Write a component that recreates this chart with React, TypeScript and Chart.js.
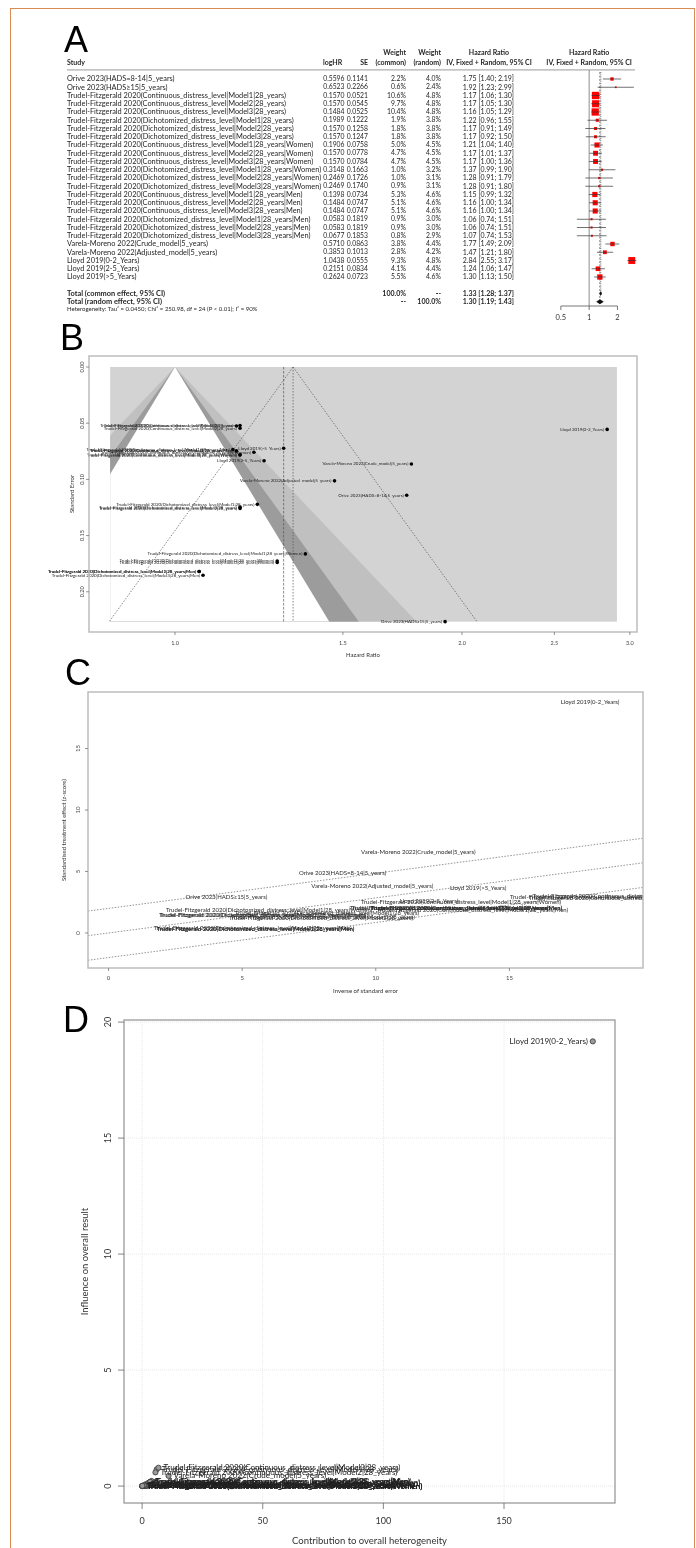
import React, { useEffect, useRef } from "react";
import { Chart, registerables } from "chart.js";

Chart.register(...registerables);

// ---------------- data ----------------
const studies = [
  "Orive 2023(HADS=8-14|5_years)",
  "Orive 2023(HADS≥15|5_years)",
  "Trudel-Fitzgerald 2020(Continuous_distress_level|Model1|28_years)",
  "Trudel-Fitzgerald 2020(Continuous_distress_level|Model2|28_years)",
  "Trudel-Fitzgerald 2020(Continuous_distress_level|Model3|28_years)",
  "Trudel-Fitzgerald 2020(Dichotomized_distress_level|Model1|28_years)",
  "Trudel-Fitzgerald 2020(Dichotomized_distress_level|Model2|28_years)",
  "Trudel-Fitzgerald 2020(Dichotomized_distress_level|Model3|28_years)",
  "Trudel-Fitzgerald 2020(Continuous_distress_level|Model1|28_years|Women)",
  "Trudel-Fitzgerald 2020(Continuous_distress_level|Model2|28_years|Women)",
  "Trudel-Fitzgerald 2020(Continuous_distress_level|Model3|28_years|Women)",
  "Trudel-Fitzgerald 2020(Dichotomized_distress_level|Model1|28_years|Women)",
  "Trudel-Fitzgerald 2020(Dichotomized_distress_level|Model2|28_years|Women)",
  "Trudel-Fitzgerald 2020(Dichotomized_distress_level|Model3|28_years|Women)",
  "Trudel-Fitzgerald 2020(Continuous_distress_level|Model1|28_years|Men)",
  "Trudel-Fitzgerald 2020(Continuous_distress_level|Model2|28_years|Men)",
  "Trudel-Fitzgerald 2020(Continuous_distress_level|Model3|28_years|Men)",
  "Trudel-Fitzgerald 2020(Dichotomized_distress_level|Model1|28_years|Men)",
  "Trudel-Fitzgerald 2020(Dichotomized_distress_level|Model2|28_years|Men)",
  "Trudel-Fitzgerald 2020(Dichotomized_distress_level|Model3|28_years|Men)",
  "Varela-Moreno 2022(Crude_model|5_years)",
  "Varela-Moreno 2022(Adjusted_model|5_years)",
  "Lloyd 2019(0-2_Years)",
  "Lloyd 2019(2-5_Years)",
  "Lloyd 2019(>5_Years)",
];
const logHR = [0.5596, 0.6523, 0.157, 0.157, 0.1484, 0.1989, 0.157, 0.157, 0.1906, 0.157, 0.157, 0.3148, 0.2469, 0.2469, 0.1398, 0.1484, 0.1484, 0.0583, 0.0583, 0.0677, 0.571, 0.3853, 1.0438, 0.2151, 0.2624];
const seValues = [0.1141, 0.2266, 0.0521, 0.0545, 0.0525, 0.1222, 0.1258, 0.1247, 0.0758, 0.0778, 0.0784, 0.1663, 0.1726, 0.174, 0.0734, 0.0747, 0.0747, 0.1819, 0.1819, 0.1853, 0.0863, 0.1013, 0.0555, 0.0834, 0.0723];
const weightCommon = [2.2, 0.6, 10.6, 9.7, 10.4, 1.9, 1.8, 1.8, 5.0, 4.7, 4.7, 1.0, 1.0, 0.9, 5.3, 5.1, 5.1, 0.9, 0.9, 0.8, 3.8, 2.8, 9.3, 4.1, 5.5];
const weightRandom = [4.0, 2.4, 4.8, 4.8, 4.8, 3.8, 3.8, 3.8, 4.5, 4.5, 4.5, 3.2, 3.1, 3.1, 4.6, 4.6, 4.6, 3.0, 3.0, 2.9, 4.4, 4.2, 4.8, 4.4, 4.6];
const hazardRatio = [1.75, 1.92, 1.17, 1.17, 1.16, 1.22, 1.17, 1.17, 1.21, 1.17, 1.17, 1.37, 1.28, 1.28, 1.15, 1.16, 1.16, 1.06, 1.06, 1.07, 1.77, 1.47, 2.84, 1.24, 1.3];
const ciLower = [1.4, 1.23, 1.06, 1.05, 1.05, 0.96, 0.91, 0.92, 1.04, 1.01, 1.0, 0.99, 0.91, 0.91, 0.99, 1.0, 1.0, 0.74, 0.74, 0.74, 1.49, 1.21, 2.55, 1.06, 1.13];
const ciUpper = [2.19, 2.99, 1.3, 1.3, 1.29, 1.55, 1.49, 1.5, 1.4, 1.37, 1.36, 1.9, 1.79, 1.8, 1.32, 1.34, 1.34, 1.51, 1.51, 1.53, 2.09, 1.8, 3.17, 1.47, 1.5];

const totalLabels = ["Total (common effect, 95% CI)", "Total (random effect, 95% CI)"];
const totalWeightCommon = ["100.0%", "--"];
const totalWeightRandom = ["--", "100.0%"];
const totalHR = [1.33, 1.3];
const totalLower = [1.28, 1.19];
const totalUpper = [1.37, 1.43];
const heterogeneityText = "Heterogeneity: Tau² = 0.0450; Chi² = 250.98, df = 24 (P < 0.01); I² = 90%";
const pooledLogHR = 0.2852;

const forestTicks = [0.5, 1, 2];
const funnelTicksX = [1.0, 1.5, 2.0, 2.5, 3.0];
const funnelTicksY = [0, 0.05, 0.1, 0.15, 0.2];
const funnelBackRange = [0.855, 2.908];
const contourZ = [2.576, 1.96, 1.645];

const radialX = [8.76, 4.41, 19.19, 18.35, 19.05, 8.18, 7.95, 8.02, 13.19, 12.85, 12.76, 6.01, 5.79, 5.75, 13.62, 13.39, 13.39, 5.5, 5.5, 5.4, 11.59, 9.87, 18.02, 11.99, 13.83];
const radialZ = [4.9, 2.88, 3.01, 2.88, 2.83, 1.63, 1.25, 1.26, 2.51, 2.02, 2.0, 1.89, 1.43, 1.42, 1.9, 1.99, 1.99, 0.32, 0.32, 0.37, 6.62, 3.8, 18.81, 2.58, 3.63];
const radialBands = [-2, 0, 2];
const radialTicks = [0, 5, 10, 15];

const baujatQ = [5.78, 2.62, 6.06, 5.53, 6.79, 0.5, 1.04, 1.06, 1.56, 2.72, 2.67, 0.03, 0.05, 0.05, 3.92, 3.35, 3.35, 1.56, 1.56, 1.38, 10.97, 0.98, 186.8, 0.71, 0.1];
const baujatInfluence = [0.13, 0.01, 0.72, 0.59, 0.79, 0.01, 0.02, 0.02, 0.08, 0.14, 0.13, 0.0, 0.0, 0.0, 0.22, 0.18, 0.18, 0.01, 0.01, 0.01, 0.44, 0.03, 19.17, 0.03, 0.01];
const baujatTicksX = [0, 50, 100, 150];
const baujatTicksY = [0, 5, 10, 15, 20];

// ---------------- helpers ----------------
const FONT = "Lato, 'Liberation Sans', Arial, sans-serif";

type TextOpt = { size?: number; bold?: boolean; align?: CanvasTextAlign; color?: string; rot?: number };
function drawText(ctx: CanvasRenderingContext2D, s: string, x: number, y: number, o: TextOpt = {}) {
  ctx.save();
  ctx.font = `${o.bold ? "bold " : ""}${o.size ?? 7}px ${FONT}`;
  ctx.fillStyle = o.color ?? "#262626";
  ctx.textAlign = o.align ?? "left";
  ctx.textBaseline = "middle";
  ctx.translate(x, y);
  if (o.rot) ctx.rotate(o.rot);
  ctx.fillText(s, 0, 0);
  ctx.restore();
}
function drawLine(ctx: CanvasRenderingContext2D, x1: number, y1: number, x2: number, y2: number, color: string, width: number, dash: number[] = []) {
  ctx.save();
  ctx.strokeStyle = color;
  ctx.lineWidth = width;
  ctx.setLineDash(dash);
  ctx.beginPath();
  ctx.moveTo(x1, y1);
  ctx.lineTo(x2, y2);
  ctx.stroke();
  ctx.restore();
}
function frame(ctx: CanvasRenderingContext2D, ca: any, color: string, width: number) {
  ctx.save();
  ctx.strokeStyle = color;
  ctx.lineWidth = width;
  ctx.strokeRect(ca.left, ca.top, ca.right - ca.left, ca.bottom - ca.top);
  ctx.restore();
}
const baseOptions = (padding: any) => ({
  animation: false,
  responsive: false,
  maintainAspectRatio: false,
  events: [],
  layout: { padding },
  plugins: { legend: { display: false }, tooltip: { enabled: false }, title: { display: false } },
});

// ---------------- A: forest plot ----------------
const COL = { study: 67, logHRHead: 323, logHR: 344.5, se: 368, wCommon: 406, wRandom: 441, hr: 514, hrMid: 489, lineEnd: 635 };

const forestPlugin = {
  id: "forestDecor",
  beforeDatasetsDraw(chart: any) {
    const { ctx, chartArea: ca } = chart;
    const X = (v: number) => chart.scales.x.getPixelForValue(v);
    const Y = (v: number) => chart.scales.y.getPixelForValue(v);
    const h1 = Y(-3.2), h2 = Y(-2);
    const hb: TextOpt = { size: 7, bold: true };
    drawText(ctx, "Study", COL.study, h2, hb);
    drawText(ctx, "logHR", COL.logHRHead, h2, hb);
    drawText(ctx, "SE", COL.se, h2, { ...hb, align: "right" });
    drawText(ctx, "Weight", COL.wCommon, h1, { ...hb, align: "right" });
    drawText(ctx, "(common)", COL.wCommon, h2, { ...hb, align: "right" });
    drawText(ctx, "Weight", COL.wRandom, h1, { ...hb, align: "right" });
    drawText(ctx, "(random)", COL.wRandom, h2, { ...hb, align: "right" });
    drawText(ctx, "Hazard Ratio", COL.hrMid, h1, { ...hb, align: "center" });
    drawText(ctx, "IV, Fixed + Random, 95% CI", COL.hrMid, h2, { ...hb, align: "center" });
    drawText(ctx, "Hazard Ratio", X(1), h1, { ...hb, align: "center" });
    drawText(ctx, "IV, Fixed + Random, 95% CI", X(1), h2, { ...hb, align: "center" });
    drawLine(ctx, COL.study, Y(-1.1), COL.lineEnd, Y(-1.1), "#9a9a9a", 1);

    drawLine(ctx, X(1), ca.top, X(1), ca.bottom, "#808080", 0.9);
    drawLine(ctx, X(totalHR[0]), ca.top + 2, X(totalHR[0]), Y(26), "#444", 0.7, [1, 1.2]);
    drawLine(ctx, X(totalHR[1]), ca.top + 2, X(totalHR[1]), Y(27), "#444", 0.7, [2, 1.5]);

    studies.forEach((s, i) => {
      const y = Y(i);
      drawText(ctx, s, COL.study, y, { size: 7.4 });
      drawText(ctx, logHR[i].toFixed(4), COL.logHR, y, { size: 6.8, align: "right" });
      drawText(ctx, seValues[i].toFixed(4), COL.se, y, { size: 6.8, align: "right" });
      drawText(ctx, weightCommon[i].toFixed(1) + "%", COL.wCommon, y, { size: 6.8, align: "right" });
      drawText(ctx, weightRandom[i].toFixed(1) + "%", COL.wRandom, y, { size: 6.8, align: "right" });
      drawText(ctx, `${hazardRatio[i].toFixed(2)} [${ciLower[i].toFixed(2)}; ${ciUpper[i].toFixed(2)}]`, COL.hr, y, { size: 7, align: "right" });
    });

    totalLabels.forEach((lab, k) => {
      const y = Y(26 + k);
      drawText(ctx, lab, COL.study, y, { size: 7.4, bold: true });
      drawText(ctx, totalWeightCommon[k], COL.wCommon, y, { ...hb, align: "right" });
      drawText(ctx, totalWeightRandom[k], COL.wRandom, y, { ...hb, align: "right" });
      drawText(ctx, `${totalHR[k].toFixed(2)} [${totalLower[k].toFixed(2)}; ${totalUpper[k].toFixed(2)}]`, COL.hr, y, { ...hb, align: "right" });
      ctx.save();
      ctx.fillStyle = "#111";
      ctx.beginPath();
      ctx.moveTo(X(totalLower[k]), y);
      ctx.lineTo(X(totalHR[k]), y - 2.6);
      ctx.lineTo(X(totalUpper[k]), y);
      ctx.lineTo(X(totalHR[k]), y + 2.6);
      ctx.closePath();
      ctx.fill();
      ctx.restore();
    });
    drawText(ctx, heterogeneityText, COL.study, Y(27.9), { size: 6 });

    const ay = ca.bottom;
    drawLine(ctx, X(forestTicks[0]), ay, X(forestTicks[forestTicks.length - 1]), ay, "#555", 0.8);
    forestTicks.forEach((t) => {
      drawLine(ctx, X(t), ay, X(t), ay + 4, "#555", 0.8);
      drawText(ctx, String(t), X(t), ay + 12, { size: 7.5, align: "center", color: "#333" });
    });
  },
  afterDatasetsDraw(chart: any) {
    const { ctx } = chart;
    const X = (v: number) => chart.scales.x.getPixelForValue(v);
    const Y = (v: number) => chart.scales.y.getPixelForValue(v);
    studies.forEach((_, i) => {
      drawLine(ctx, X(ciLower[i]), Y(i), X(ciUpper[i]), Y(i), "#333", 0.7);
    });
  },
};

function forestConfig(): any {
  return {
    type: "scatter",
    data: {
      datasets: [
        {
          data: hazardRatio.map((h, i) => ({ x: h, y: i })),
          pointStyle: "rect",
          pointRadius: weightCommon.map((w) => 1.6 * Math.sqrt(w)),
          pointBackgroundColor: "#ff0000",
          pointBorderWidth: 0,
        },
      ],
    },
    options: {
      ...baseOptions({ left: 540, right: 56, top: 70, bottom: 29 }),
      scales: {
        x: { type: "logarithmic", display: false, min: 0.3314, max: 3.474 },
        y: { type: "linear", display: false, reverse: true, min: -1.0909, max: 27.515 },
      },
    },
    plugins: [forestPlugin],
  };
}

// ---------------- B: funnel plot ----------------
const funnelPlugin = {
  id: "funnelDecor",
  beforeDatasetsDraw(chart: any) {
    const { ctx } = chart;
    const X = (v: number) => chart.scales.x.getPixelForValue(v);
    const Y = (v: number) => chart.scales.y.getPixelForValue(v);
    const seMax = Math.max(...seValues);
    const l = X(funnelBackRange[0]), r = X(funnelBackRange[1]), t = Y(0), b = Y(seMax);
    ctx.save();
    ctx.fillStyle = "#d3d3d3";
    ctx.fillRect(l, t, r - l, b - t);
    ctx.beginPath();
    ctx.rect(l, t, r - l, b - t);
    ctx.clip();
    const shades = ["#c0c0c0", "#9c9c9c", "#ffffff"];
    contourZ.forEach((z, k) => {
      ctx.fillStyle = shades[k];
      ctx.beginPath();
      ctx.moveTo(X(1), Y(0));
      ctx.lineTo(X(Math.exp(-z * seMax)), Y(seMax));
      ctx.lineTo(X(Math.exp(z * seMax)), Y(seMax));
      ctx.closePath();
      ctx.fill();
    });
    ctx.restore();
    const apex = X(Math.exp(pooledLogHR));
    drawLine(ctx, apex, Y(0), X(Math.exp(pooledLogHR - 1.96 * seMax)), Y(seMax), "#555", 0.7, [1.5, 1.5]);
    drawLine(ctx, apex, Y(0), X(Math.exp(pooledLogHR + 1.96 * seMax)), Y(seMax), "#555", 0.7, [1.5, 1.5]);
    drawLine(ctx, X(totalHR[0]), Y(0), X(totalHR[0]), Y(seMax), "#555", 0.7, [1.5, 1.5]);
    drawLine(ctx, X(totalHR[1]), Y(0), X(totalHR[1]), Y(seMax), "#555", 0.7, [2.5, 1.5]);
  },
  afterDatasetsDraw(chart: any) {
    const { ctx, chartArea: ca } = chart;
    const X = (v: number) => chart.scales.x.getPixelForValue(v);
    const Y = (v: number) => chart.scales.y.getPixelForValue(v);
    const meta = chart.getDatasetMeta(0);
    meta.data.forEach((el: any, i: number) => {
      drawText(ctx, studies[i], el.x - 3, el.y, { size: 4.5, align: "right", color: "#222" });
    });
    frame(ctx, ca, "#bdbdbd", 1.5);
    funnelTicksX.forEach((t) => {
      drawLine(ctx, X(t), ca.bottom, X(t), ca.bottom + 3, "#666", 0.7);
      drawText(ctx, t.toFixed(1), X(t), ca.bottom + 11, { size: 5.5, align: "center", color: "#444" });
    });
    funnelTicksY.forEach((t) => {
      drawLine(ctx, ca.left, Y(t), ca.left - 3, Y(t), "#666", 0.7);
      drawText(ctx, t.toFixed(2), ca.left - 7, Y(t), { size: 5.5, align: "center", color: "#444", rot: -Math.PI / 2 });
    });
    drawText(ctx, "Hazard Ratio", (ca.left + ca.right) / 2, ca.bottom + 23, { size: 6, align: "center", color: "#333" });
    drawText(ctx, "Standard Error", ca.left - 17, (ca.top + ca.bottom) / 2, { size: 6, align: "center", color: "#333", rot: -Math.PI / 2 });
  },
};

function funnelConfig(): any {
  return {
    type: "scatter",
    data: {
      datasets: [
        {
          data: hazardRatio.map((h, i) => ({ x: h, y: seValues[i] })),
          pointRadius: 1.8,
          pointBackgroundColor: "#000",
          pointBorderWidth: 0,
        },
      ],
    },
    options: {
      ...baseOptions({ left: 89, right: 59, top: 21, bottom: 43 }),
      scales: {
        x: { type: "logarithmic", display: false, min: 0.8124, max: 3.0523 },
        y: { type: "linear", display: false, reverse: true, min: -0.0098, max: 0.2358 },
      },
    },
    plugins: [funnelPlugin],
  };
}

// ---------------- C: radial (Galbraith) plot ----------------
const radialPlugin = {
  id: "radialDecor",
  beforeDatasetsDraw(chart: any) {
    const { ctx, chartArea: ca } = chart;
    const xs = chart.scales.x, ys = chart.scales.y;
    ctx.save();
    ctx.beginPath();
    ctx.rect(ca.left, ca.top, ca.right - ca.left, ca.bottom - ca.top);
    ctx.clip();
    radialBands.forEach((c) => {
      drawLine(
        ctx,
        xs.getPixelForValue(xs.min), ys.getPixelForValue(pooledLogHR * xs.min + c),
        xs.getPixelForValue(xs.max), ys.getPixelForValue(pooledLogHR * xs.max + c),
        "#666", 0.7, [1.5, 1.5]
      );
    });
    ctx.restore();
  },
  afterDatasetsDraw(chart: any) {
    const { ctx, chartArea: ca } = chart;
    const X = (v: number) => chart.scales.x.getPixelForValue(v);
    const Y = (v: number) => chart.scales.y.getPixelForValue(v);
    const meta = chart.getDatasetMeta(0);
    ctx.save();
    ctx.beginPath();
    ctx.rect(ca.left, ca.top, ca.right - ca.left, ca.bottom - ca.top);
    ctx.clip();
    meta.data.forEach((el: any, i: number) => {
      drawText(ctx, studies[i], el.x, el.y, { size: 6, align: "center", color: "#2a2a2a" });
    });
    ctx.restore();
    frame(ctx, ca, "#bdbdbd", 1.5);
    radialTicks.forEach((t) => {
      drawLine(ctx, X(t), ca.bottom, X(t), ca.bottom + 3, "#666", 0.7);
      drawText(ctx, String(t), X(t), ca.bottom + 10, { size: 6, align: "center", color: "#444" });
      drawLine(ctx, ca.left, Y(t), ca.left - 3, Y(t), "#666", 0.7);
      drawText(ctx, String(t), ca.left - 10, Y(t), { size: 6, align: "center", color: "#444", rot: -Math.PI / 2 });
    });
    drawText(ctx, "Inverse of standard error", (ca.left + ca.right) / 2, ca.bottom + 23, { size: 6, align: "center", color: "#333" });
    drawText(ctx, "Standardised treatment effect (z-score)", ca.left - 24, (ca.top + ca.bottom) / 2, { size: 6, align: "center", color: "#333", rot: -Math.PI / 2 });
  },
};

function radialConfig(): any {
  return {
    type: "scatter",
    data: { datasets: [{ data: radialX.map((x, i) => ({ x, y: radialZ[i] })), pointRadius: 0 }] },
    options: {
      ...baseOptions({ left: 88, right: 53, top: 17, bottom: 42 }),
      scales: {
        x: { type: "linear", display: false, min: -0.77, max: 20.0 },
        y: { type: "linear", display: false, min: -2.85, max: 19.6 },
      },
    },
    plugins: [radialPlugin],
  };
}

// ---------------- D: Baujat plot ----------------
const baujatPlugin = {
  id: "baujatDecor",
  beforeDatasetsDraw(chart: any) {
    const { ctx, chartArea: ca } = chart;
    const X = (v: number) => chart.scales.x.getPixelForValue(v);
    const Y = (v: number) => chart.scales.y.getPixelForValue(v);
    baujatTicksX.forEach((t) => drawLine(ctx, X(t), ca.top, X(t), ca.bottom, "#e2e2e2", 0.8, [1, 1]));
    baujatTicksY.forEach((t) => drawLine(ctx, ca.left, Y(t), ca.right, Y(t), "#e2e2e2", 0.8, [1, 1]));
  },
  afterDatasetsDraw(chart: any) {
    const { ctx, chartArea: ca } = chart;
    const xs = chart.scales.x;
    const X = (v: number) => xs.getPixelForValue(v);
    const Y = (v: number) => chart.scales.y.getPixelForValue(v);
    const mid = (xs.min + xs.max) / 2;
    const meta = chart.getDatasetMeta(0);
    meta.data.forEach((el: any, i: number) => {
      const left = baujatQ[i] > mid;
      drawText(ctx, studies[i], left ? el.x - 5 : el.x + 5, el.y, { size: 8, align: left ? "right" : "left", color: "#222" });
    });
    frame(ctx, ca, "#9a9a9a", 1.3);
    baujatTicksX.forEach((t) => {
      drawLine(ctx, X(t), ca.bottom, X(t), ca.bottom + 6, "#666", 0.8);
      drawText(ctx, String(t), X(t), ca.bottom + 18, { size: 9, align: "center", color: "#333" });
    });
    baujatTicksY.forEach((t) => {
      drawLine(ctx, ca.left, Y(t), ca.left - 6, Y(t), "#666", 0.8);
      drawText(ctx, String(t), ca.left - 16, Y(t), { size: 9, align: "center", color: "#333", rot: -Math.PI / 2 });
    });
    drawText(ctx, "Contribution to overall heterogeneity", (ca.left + ca.right) / 2, ca.bottom + 38, { size: 9.5, align: "center", color: "#333" });
    drawText(ctx, "Influence on overall result", ca.left - 39, (ca.top + ca.bottom) / 2, { size: 9.5, align: "center", color: "#333", rot: -Math.PI / 2 });
  },
};

function baujatConfig(): any {
  return {
    type: "scatter",
    data: {
      datasets: [
        {
          data: baujatQ.map((q, i) => ({ x: q, y: baujatInfluence[i] })),
          pointRadius: 2.6,
          pointBackgroundColor: "#9a9a9a",
          pointBorderColor: "#333",
          pointBorderWidth: 0.8,
        },
      ],
    },
    options: {
      ...baseOptions({ left: 124, right: 81, top: 15, bottom: 45 }),
      scales: {
        x: { type: "linear", display: false, min: -7.5, max: 196 },
        y: { type: "linear", display: false, min: -0.73, max: 20.09 },
      },
    },
    plugins: [baujatPlugin],
  };
}

// ---------------- components ----------------
function PlotCanvas({ left, top, width, height, make }: { left: number; top: number; width: number; height: number; make: () => any }) {
  const ref = useRef<HTMLCanvasElement>(null);
  useEffect(() => {
    if (!ref.current) return;
    const chart = new Chart(ref.current, make());
    return () => chart.destroy();
  }, []);
  return <canvas ref={ref} width={width} height={height} style={{ position: "absolute", left, top, width, height }} />;
}

function PanelLetter({ ch, left, top }: { ch: string; left: number; top: number }) {
  return (
    <div style={{ position: "absolute", left, top, fontFamily: "'Liberation Sans', Arial, sans-serif", fontSize: 36, lineHeight: "36px", color: "#000" }}>
      {ch}
    </div>
  );
}

export default function App() {
  return (
    <div style={{ position: "absolute", left: 0, top: 0, width: 696, height: 1548, background: "#fff", overflow: "hidden" }}>
      <div style={{ position: "absolute", left: 10, top: 8, width: 685, height: 1580, border: "1.5px solid #d98b52", boxSizing: "border-box" }} />
      <PlotCanvas left={0} top={0} width={696} height={335} make={forestConfig} />
      <PlotCanvas left={0} top={335} width={696} height={340} make={funnelConfig} />
      <PlotCanvas left={0} top={675} width={696} height={335} make={radialConfig} />
      <PlotCanvas left={0} top={1005} width={696} height={543} make={baujatConfig} />
      <PanelLetter ch="A" left={64} top={22} />
      <PanelLetter ch="B" left={60} top={320} />
      <PanelLetter ch="C" left={65} top={655} />
      <PanelLetter ch="D" left={63} top={1002} />
    </div>
  );
}
